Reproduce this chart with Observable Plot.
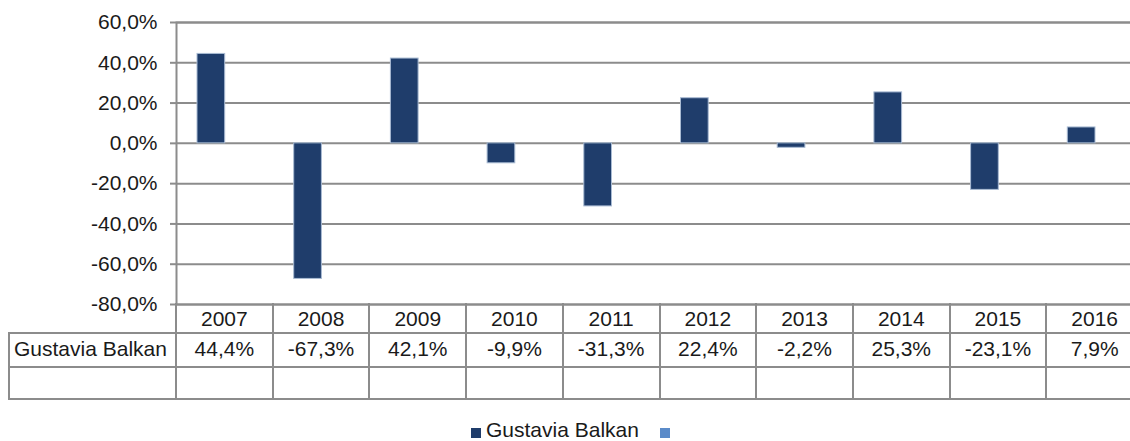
<!DOCTYPE html>
<html>
<head>
<meta charset="utf-8">
<script src="https://cdn.jsdelivr.net/npm/d3@7"></script>
<script src="https://cdn.jsdelivr.net/npm/@observablehq/plot@0.6"></script>
<style>
  html, body { margin: 0; padding: 0; background: #fff; overflow: hidden; }
  #wrap { position: relative; width: 1130px; height: 441px; overflow: hidden; font-family: "Liberation Sans", Arial, sans-serif; color: #1a1a1a; }
  #wrap svg { position: absolute; left: 0; top: 0; }
  .ln { position: absolute; background: #8c8c8c; }
  .cell { position: absolute; font-size: 21px; text-align: center; white-space: nowrap; }
  .sq { position: absolute; width: 10px; height: 10px; }
</style>
</head>
<body>
<div id="wrap"></div>
<script>
// ---- data ----
const years = ["2007", "2008", "2009", "2010", "2011", "2012", "2013", "2014", "2015", "2016"];
const values = [44.4, -67.3, 42.1, -9.9, -31.3, 22.4, -2.2, 25.3, -23.1, 7.9];
const seriesName = "Gustavia Balkan";
const yTicks = [-80, -60, -40, -20, 0, 20, 40, 60];

const barColor = "#1f3d6b";
const series2Color = "#5b8bc9";
const gridColor = "#8c8c8c";

const pct = d => d.toFixed(1).replace(".", ",") + "%";
const data = years.map((year, i) => ({year, value: values[i]}));

const chart = Plot.plot({
  width: 1143,
  height: 441,
  marginLeft: 176,
  marginRight: 0,
  marginTop: 22,
  marginBottom: 137,
  style: {fontFamily: "'Liberation Sans', Arial, sans-serif", fontSize: "21px", color: "#1a1a1a", background: "transparent", maxWidth: "none"},
  x: {type: "band", domain: years, padding: 0, round: false, axis: null},
  y: {domain: [-80, 60], ticks: yTicks, tickFormat: pct, label: null},
  marks: [
    Plot.gridY(yTicks, {stroke: gridColor, strokeOpacity: 1, strokeWidth: 2}),
    Plot.frame({stroke: gridColor, strokeWidth: 2}),
    Plot.axisY(yTicks, {tickSize: 6, tickPadding: 13, tickFormat: pct, stroke: gridColor, strokeWidth: 2, fill: "#1a1a1a", fontSize: 21, label: null}),
    Plot.barY(data, {x: "year", y: "value", fill: barColor, stroke: "#a9bbd3", strokeWidth: 1, insetLeft: 21, insetRight: 48})
  ]
});

const wrap = document.getElementById("wrap");
wrap.appendChild(chart);

// ---- data table under the chart, aligned to the x scale ----
const xs = chart.scale("x");
const bw = xs.bandwidth;
const x0 = xs.apply(years[0]);
const xEnd = xs.apply(years[years.length - 1]) + bw;
const tableTop = 304, row1 = 333, row2 = 367, tableBottom = 399, tableLeft = 9;

function hline(x1, x2, y) {
  const d = document.createElement("div");
  d.className = "ln";
  Object.assign(d.style, {left: x1 - 1 + "px", top: y - 1 + "px", width: (x2 - x1 + 2) + "px", height: "2px"});
  wrap.appendChild(d);
}
function vline(x, y1, y2) {
  const d = document.createElement("div");
  d.className = "ln";
  Object.assign(d.style, {left: x - 1 + "px", top: y1 - 1 + "px", width: "2px", height: (y2 - y1 + 2) + "px"});
  wrap.appendChild(d);
}
function cell(text, left, width, top, height, align) {
  const d = document.createElement("div");
  d.className = "cell";
  d.textContent = text;
  Object.assign(d.style, {left: left + "px", width: width + "px", top: top + "px", height: height + "px", lineHeight: height + "px", textAlign: align || "center"});
  wrap.appendChild(d);
}

hline(tableLeft, xEnd, row1);
hline(tableLeft, xEnd, row2);
hline(tableLeft, xEnd, tableBottom);
vline(tableLeft, row1, tableBottom);
years.forEach(y => vline(xs.apply(y), tableTop, tableBottom));
vline(xEnd, tableTop, tableBottom);

years.forEach((y, i) => {
  const left = xs.apply(y);
  cell(y, left, bw, tableTop, row1 - tableTop);
  cell(pct(values[i]), left, bw, row1 - 1, row2 - row1);
});
cell(seriesName, tableLeft + 5, x0 - tableLeft - 5, row1 - 1, row2 - row1, "left");

// ---- legend ----
const sq1 = document.createElement("div");
sq1.className = "sq";
Object.assign(sq1.style, {left: "471px", top: "428px", background: barColor});
wrap.appendChild(sq1);
const lt = document.createElement("div");
lt.className = "cell";
lt.textContent = seriesName;
Object.assign(lt.style, {left: "486px", top: "419px", height: "22px", lineHeight: "22px", textAlign: "left"});
wrap.appendChild(lt);
const sq2 = document.createElement("div");
sq2.className = "sq";
Object.assign(sq2.style, {left: "660px", top: "428px", background: series2Color});
wrap.appendChild(sq2);
</script>
</body>
</html>
